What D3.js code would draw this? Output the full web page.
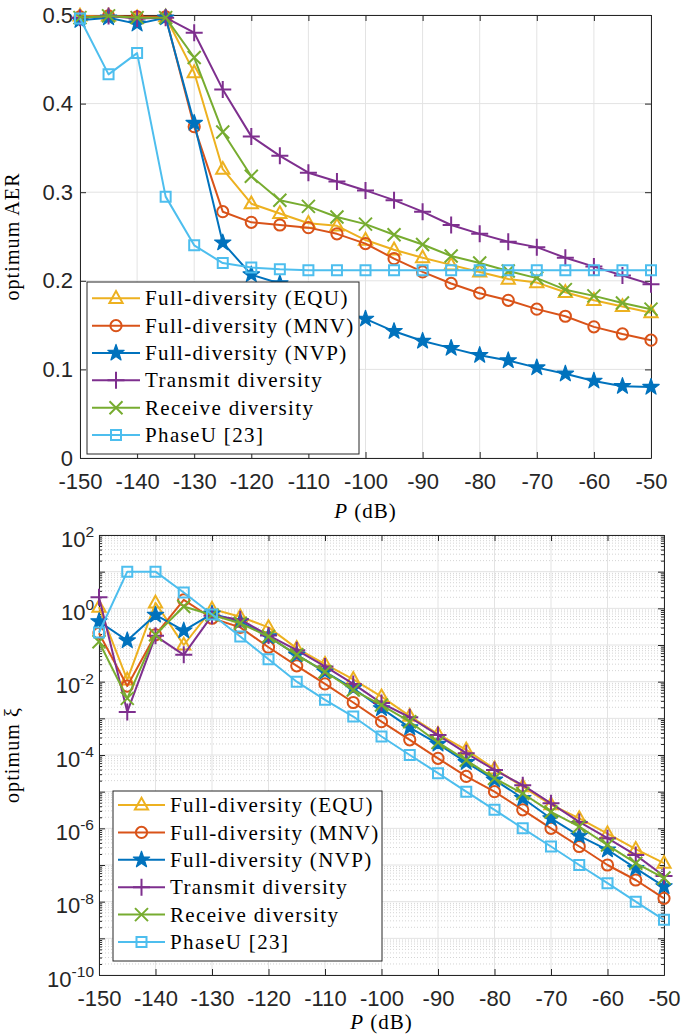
<!DOCTYPE html>
<html>
<head>
<meta charset="utf-8">
<script src="https://cdn.jsdelivr.net/npm/d3@7"></script>
<style>
  html, body { margin: 0; padding: 0; background: #fff; }
  svg { display: block; }
</style>
</head>
<body>
<svg id="chart" width="694" height="1036"></svg>
<script>
// ---------------- DATA ----------------
const P = [-150, -145, -140, -135, -130, -125, -120, -115, -110, -105, -100,
           -95, -90, -85, -80, -75, -70, -65, -60, -55, -50];

const seriesNames = ["Full-diversity (EQU)", "Full-diversity (MNV)", "Full-diversity (NVP)",
                     "Transmit diversity", "Receive diversity", "PhaseU [23]"];

// Top panel: optimum AER
const aerEQU = [0.499, 0.499, 0.497, 0.498, 0.435, 0.326, 0.287, 0.276, 0.265, 0.262, 0.246,
                0.235, 0.226, 0.218, 0.210, 0.202, 0.198, 0.187, 0.178, 0.171, 0.164];
const aerMNV = [0.498, 0.499, 0.498, 0.498, 0.374, 0.278, 0.266, 0.263, 0.260, 0.253, 0.242,
                0.225, 0.210, 0.197, 0.186, 0.178, 0.168, 0.160, 0.148, 0.140, 0.133];
const aerNVP = [0.494, 0.497, 0.490, 0.497, 0.378, 0.243, 0.207, 0.197, 0.182, 0.168, 0.157,
                0.143, 0.132, 0.124, 0.116, 0.110, 0.102, 0.095, 0.087, 0.081, 0.080];
const aerTX  = [0.497, 0.499, 0.496, 0.497, 0.480, 0.416, 0.363, 0.341, 0.322, 0.312, 0.302,
                0.291, 0.278, 0.263, 0.253, 0.244, 0.238, 0.226, 0.216, 0.206, 0.196];
const aerRX  = [0.497, 0.499, 0.497, 0.497, 0.452, 0.368, 0.318, 0.291, 0.284, 0.272, 0.264,
                0.252, 0.241, 0.228, 0.220, 0.211, 0.203, 0.190, 0.183, 0.175, 0.168];
const aerPU  = [0.496, 0.433, 0.457, 0.295, 0.240, 0.220, 0.215, 0.213, 0.212, 0.212, 0.212,
                0.212, 0.212, 0.212, 0.212, 0.212, 0.212, 0.212, 0.212, 0.212, 0.212];

// Bottom panel: optimum xi (log scale)
const xiEQU = [1.07, 1.12e-2, 1.41, 1.0e-1, 0.955, 0.589, 0.302, 8.1e-2, 3.0e-2, 1.16e-2, 3.9e-3,
               1.15e-3, 3.7e-4, 1.38e-4, 4.2e-5, 1.38e-5, 4.4e-6, 1.86e-6, 7.2e-7, 2.7e-7, 1.12e-7];
const xiMNV = [0.209, 7.6e-3, 0.19, 1.7, 0.537, 0.302, 8.7e-2, 2.7e-2, 8.7e-3, 2.7e-3, 8.1e-4,
               2.6e-4, 8.1e-5, 2.6e-5, 1.0e-5, 3.2e-6, 1.0e-6, 3.2e-7, 1.0e-7, 3.9e-8, 1.23e-8];
const xiNVP = [0.437, 0.132, 0.66, 0.245, 0.708, 0.437, 0.17, 5.4e-2, 1.86e-2, 6.6e-3, 1.86e-3,
               5.6e-4, 2.0e-4, 6.3e-5, 2.1e-5, 6.6e-6, 1.86e-6, 6.2e-7, 2.6e-7, 8.1e-8, 2.6e-8];
const xiTX  = [2.0, 1.5e-3, 0.178, 5.4e-2, 0.63, 0.5, 0.182, 7.2e-2, 2.6e-2, 8.7e-3, 2.6e-3,
               1.07e-3, 3.5e-4, 1.12e-4, 3.9e-5, 1.5e-5, 4.8e-6, 1.5e-6, 5.4e-7, 1.86e-7, 5.0e-8];
const xiRX  = [0.123, 3.5e-3, 0.19, 1.12, 0.66, 0.39, 0.17, 5.4e-2, 1.86e-2, 5.9e-3, 2.3e-3,
               8.1e-4, 2.2e-4, 7.2e-5, 2.3e-5, 8.9e-6, 2.8e-6, 1.12e-6, 3.5e-7, 1.12e-7, 4.4e-8];
const xiPU  = [0.219, 10, 10, 2.7, 0.676, 0.17, 4.1e-2, 1.0e-2, 3.2e-3, 1.12e-3, 3.2e-4,
               1.0e-4, 3.2e-5, 1.0e-5, 3.2e-6, 1.0e-6, 3.2e-7, 1.0e-7, 3.2e-8, 1.0e-8, 3.2e-9];

const xTicks = [-150, -140, -130, -120, -110, -100, -90, -80, -70, -60, -50];
const xTickLabels = ["-150", "-140", "-130", "-120", "-110", "-100", "-90", "-80", "-70", "-60", "-50"];
const aerTicks = [0, 0.1, 0.2, 0.3, 0.4, 0.5];
const aerTickLabels = ["0", "0.1", "0.2", "0.3", "0.4", "0.5"];
const xiTickExps = [-10, -8, -6, -4, -2, 0, 2];
const xiTickExpLabels = ["-10", "-8", "-6", "-4", "-2", "0", "2"];

// ---------------- STYLE ----------------
const colors = ["#EDB120", "#D95319", "#0072BD", "#7E2F8E", "#77AC30", "#4DBEEE"];
const markers = ["triangle", "circle", "star", "plus", "cross", "square"];
const axisColor = "#262626";
const gridColor = "#e3e3e3";
const minorGridColor = "#d4d4d4";
const tickFont = "'Liberation Sans', Arial, sans-serif";
const serifFont = "'Liberation Serif', 'Times New Roman', serif";

const svg = d3.select("#chart");

function markerPath(type) {
  switch (type) {
    case "triangle": return "M0,-7.2L6.6,4.6L-6.6,4.6Z";
    case "square": return "M-5,-5L5,-5L5,5L-5,5Z";
    case "plus": return "M-8.5,0L8.5,0M0,-8.5L0,8.5";
    case "cross": return "M-6.5,-6.5L6.5,6.5M-6.5,6.5L6.5,-6.5";
    case "star": {
      const pts = [];
      for (let i = 0; i < 10; i++) {
        const r = i % 2 === 0 ? 8.6 : 3.4;
        const a = -Math.PI / 2 + i * Math.PI / 5;
        pts.push([r * Math.cos(a), r * Math.sin(a)]);
      }
      return "M" + pts.map(p => p[0].toFixed(2) + "," + p[1].toFixed(2)).join("L") + "Z";
    }
    default: return null;
  }
}

function drawMarker(g, type, color, x, y) {
  if (type === "circle") {
    g.append("circle").attr("cx", x).attr("cy", y).attr("r", 5.6)
      .attr("fill", "none").attr("stroke", color).attr("stroke-width", 2);
  } else if (type === "star") {
    g.append("path").attr("d", markerPath(type)).attr("transform", `translate(${x},${y})`)
      .attr("fill", color).attr("stroke", color).attr("stroke-width", 1.2).attr("stroke-linejoin", "round");
  } else {
    g.append("path").attr("d", markerPath(type)).attr("transform", `translate(${x},${y})`)
      .attr("fill", "none").attr("stroke", color).attr("stroke-width", 2);
  }
}

function drawSeries(g, xs, ys, data) {
  data.forEach((vals, i) => {
    const line = d3.line().x((d, j) => xs(P[j])).y(d => ys(d));
    const sg = g.append("g");
    sg.append("path").datum(vals).attr("d", line)
      .attr("fill", "none").attr("stroke", colors[i]).attr("stroke-width", 2)
      .attr("stroke-linejoin", "round");
    vals.forEach((v, j) => drawMarker(sg, markers[i], colors[i], xs(P[j]), ys(v)));
  });
}

function drawLegend(x0, y0, w, h, rowY0, rowStep, lineX0, lineX1, textX) {
  const lg = svg.append("g");
  lg.append("rect").attr("x", x0).attr("y", y0).attr("width", w).attr("height", h)
    .attr("fill", "#fff").attr("stroke", axisColor).attr("stroke-width", 1);
  seriesNames.forEach((name, i) => {
    const y = rowY0 + i * rowStep;
    lg.append("line").attr("x1", lineX0).attr("x2", lineX1).attr("y1", y).attr("y2", y)
      .attr("stroke", colors[i]).attr("stroke-width", 2);
    drawMarker(lg, markers[i], colors[i], (lineX0 + lineX1) / 2, y);
    lg.append("text").attr("x", textX).attr("y", y).attr("dy", "0.34em")
      .attr("font-family", serifFont).attr("font-size", 21).attr("letter-spacing", 1.35)
      .attr("fill", "#000").text(name);
  });
}

function styleAxis(a) {
  a.select(".domain").attr("stroke", axisColor).attr("stroke-width", 1);
  a.selectAll(".tick line").attr("stroke", axisColor);
  a.selectAll("text").attr("font-family", tickFont).attr("font-size", 22).attr("fill", axisColor);
}

// ---------------- TOP PANEL ----------------
{
  const L = 80, R = 651, T = 15, B = 458;
  const xs = d3.scaleLinear().domain([-150, -50]).range([L, R]);
  const ys = d3.scaleLinear().domain([0, 0.5]).range([B, T]);
  const g = svg.append("g");

  g.selectAll(".vg").data(xTicks).enter().append("line")
    .attr("x1", d => xs(d)).attr("x2", d => xs(d)).attr("y1", T).attr("y2", B)
    .attr("stroke", gridColor).attr("stroke-width", 1);
  g.selectAll(".hg").data(aerTicks).enter().append("line")
    .attr("x1", L).attr("x2", R).attr("y1", d => ys(d)).attr("y2", d => ys(d))
    .attr("stroke", gridColor).attr("stroke-width", 1);

  const ax = g.append("g").attr("transform", `translate(0,${B})`)
    .call(d3.axisBottom(xs).tickValues(xTicks).tickSizeInner(-6).tickSizeOuter(0).tickPadding(15)
      .tickFormat((d, i) => xTickLabels[i]));
  const axT = g.append("g").attr("transform", `translate(0,${T})`)
    .call(d3.axisTop(xs).tickValues(xTicks).tickSizeInner(-6).tickSizeOuter(0).tickFormat(""));
  const ay = g.append("g").attr("transform", `translate(${L},0)`)
    .call(d3.axisLeft(ys).tickValues(aerTicks).tickSizeInner(-6).tickSizeOuter(0).tickPadding(7)
      .tickFormat((d, i) => aerTickLabels[i]));
  const ayR = g.append("g").attr("transform", `translate(${R},0)`)
    .call(d3.axisRight(ys).tickValues(aerTicks).tickSizeInner(-6).tickSizeOuter(0).tickFormat(""));
  [ax, axT, ay, ayR].forEach(styleAxis);

  drawSeries(g, xs, ys, [aerEQU, aerMNV, aerNVP, aerTX, aerRX, aerPU]);

  drawLegend(87, 282, 272, 172, 298.3, 27.35, 92, 140, 145);

  svg.append("text").attr("transform", `translate(19,${(T + B) / 2}) rotate(-90)`)
    .attr("text-anchor", "middle").attr("font-family", serifFont).attr("font-size", 20)
    .attr("letter-spacing", 1.1).text("optimum AER");
  const xl = svg.append("text").attr("x", (L + R) / 2).attr("y", 518).attr("text-anchor", "middle")
    .attr("font-family", serifFont).attr("font-size", 21).attr("letter-spacing", 1);
  xl.append("tspan").attr("font-style", "italic").text("P");
  xl.append("tspan").text(" (dB)");
}

// ---------------- BOTTOM PANEL ----------------
{
  const L = 99, R = 664, T = 535, B = 975;
  const xs = d3.scaleLinear().domain([-150, -50]).range([L, R]);
  const ys = d3.scaleLog().domain([1e-10, 1e2]).range([B, T]);
  const g = svg.append("g");

  const minorVals = [];
  for (let e = -10; e < 2; e++) for (let m = 2; m <= 9; m++) minorVals.push(m * Math.pow(10, e));
  g.selectAll(".mg").data(minorVals).enter().append("line")
    .attr("x1", L).attr("x2", R).attr("y1", d => ys(d)).attr("y2", d => ys(d))
    .attr("stroke", minorGridColor).attr("stroke-width", 1).attr("stroke-dasharray", "1,2");

  const majorVals = xiTickExps.concat([-9, -7, -5, -3, -1, 1]).sort((a, b) => a - b).map(e => Math.pow(10, e));
  g.selectAll(".vg").data(xTicks).enter().append("line")
    .attr("x1", d => xs(d)).attr("x2", d => xs(d)).attr("y1", T).attr("y2", B)
    .attr("stroke", gridColor).attr("stroke-width", 1);
  g.selectAll(".hg").data(majorVals).enter().append("line")
    .attr("x1", L).attr("x2", R).attr("y1", d => ys(d)).attr("y2", d => ys(d))
    .attr("stroke", gridColor).attr("stroke-width", 1);

  const ax = g.append("g").attr("transform", `translate(0,${B})`)
    .call(d3.axisBottom(xs).tickValues(xTicks).tickSizeInner(-6).tickSizeOuter(0).tickPadding(15)
      .tickFormat((d, i) => xTickLabels[i]));
  const axT = g.append("g").attr("transform", `translate(0,${T})`)
    .call(d3.axisTop(xs).tickValues(xTicks).tickSizeInner(-6).tickSizeOuter(0).tickFormat(""));
  const ay = g.append("g").attr("transform", `translate(${L},0)`)
    .call(d3.axisLeft(ys).tickValues(majorVals).tickSizeInner(-6).tickSizeOuter(0).tickFormat(""));
  const ayR = g.append("g").attr("transform", `translate(${R},0)`)
    .call(d3.axisRight(ys).tickValues(majorVals).tickSizeInner(-6).tickSizeOuter(0).tickFormat(""));
  const ayM = g.append("g").attr("transform", `translate(${L},0)`)
    .call(d3.axisLeft(ys).tickValues(minorVals).tickSizeInner(-3).tickSizeOuter(0).tickFormat(""));
  const ayMR = g.append("g").attr("transform", `translate(${R},0)`)
    .call(d3.axisRight(ys).tickValues(minorVals).tickSizeInner(-3).tickSizeOuter(0).tickFormat(""));
  [ax, axT, ay, ayR, ayM, ayMR].forEach(styleAxis);

  xiTickExps.forEach((e, i) => {
    const y = ys(Math.pow(10, e));
    const t = svg.append("text").attr("x", L - 5).attr("y", y + 11.5).attr("text-anchor", "end")
      .attr("font-family", tickFont).attr("font-size", 22).attr("fill", axisColor);
    t.append("tspan").text("10");
    t.append("tspan").attr("font-size", 15.5).attr("dy", -9.5).text(xiTickExpLabels[i]);
  });

  drawSeries(g, xs, ys, [xiEQU, xiMNV, xiNVP, xiTX, xiRX, xiPU]);

  drawLegend(113, 791, 269, 170, 805, 27.4, 118, 165, 170);

  svg.append("text").attr("transform", `translate(19,${(T + B) / 2}) rotate(-90)`)
    .attr("text-anchor", "middle").attr("font-family", serifFont).attr("font-size", 20)
    .attr("letter-spacing", 1.1).text("optimum ξ");
  const xl = svg.append("text").attr("x", (L + R) / 2).attr("y", 1029).attr("text-anchor", "middle")
    .attr("font-family", serifFont).attr("font-size", 21).attr("letter-spacing", 1);
  xl.append("tspan").attr("font-style", "italic").text("P");
  xl.append("tspan").text(" (dB)");
}
</script>
</body>
</html>
